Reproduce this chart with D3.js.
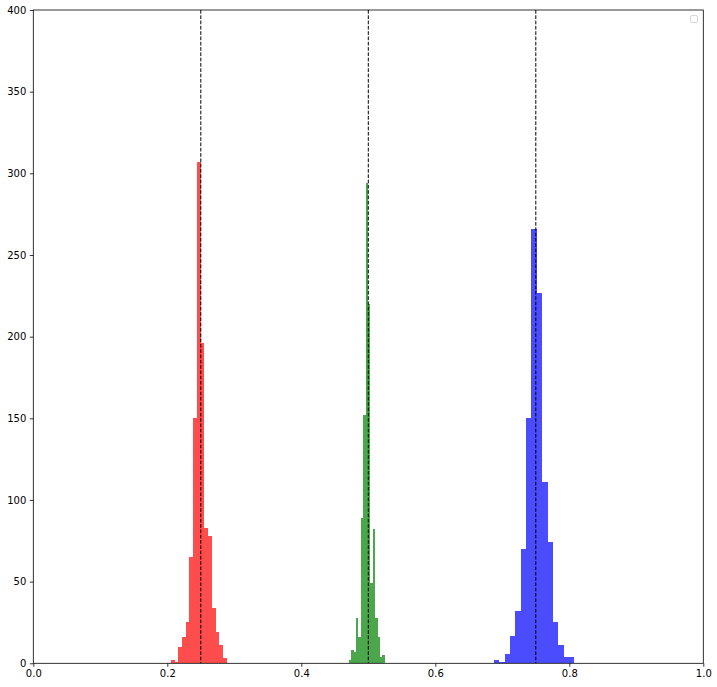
<!DOCTYPE html>
<html>
<head>
<meta charset="utf-8">
<script src="https://cdn.jsdelivr.net/npm/d3@7"></script>
<style>
  html, body { margin: 0; padding: 0; background: #fff; }
  svg { display: block; font-family: "DejaVu Sans", sans-serif; }
</style>
</head>
<body>
<svg id="chart" width="717" height="687"></svg>
<script>
// ---- data ----
const redStart = 0.2052, redWidth = 0.00557;
const redCounts = [2, 1, 10, 16, 25, 65, 150, 307, 196, 83, 78, 34, 19, 11, 3];

const greenStart = 0.4709, greenWidth = 0.00358;
const greenCounts = [2, 8, 7, 28, 16, 89, 152, 294, 220, 49, 82, 28, 16, 4, 5];

const blueStart = 0.6873, blueWidth = 0.00803;
const blueCounts = [2, 1, 6, 17, 32, 70, 150, 266, 227, 111, 74, 25, 11, 4, 4];

const trueValues = [0.25, 0.5, 0.75];
const xTicks = [0.0, 0.2, 0.4, 0.6, 0.8, 1.0];
const yTicks = [0, 50, 100, 150, 200, 250, 300, 350, 400];

// ---- layout ----
const svg = d3.select("#chart");
const L = 33.3, R = 703.3, T = 10, B = 663.3;
const x = d3.scaleLinear().domain([0, 1]).range([L, R]);
const y = d3.scaleLinear().domain([0, 400]).range([B, T]);

const series = [
  { start: redStart, width: redWidth, counts: redCounts, color: "red" },
  { start: greenStart, width: greenWidth, counts: greenCounts, color: "green" },
  { start: blueStart, width: blueWidth, counts: blueCounts, color: "blue" }
];

series.forEach(s => {
  const bins = s.counts.map((c, i) => ({ x0: s.start + i * s.width, x1: s.start + (i + 1) * s.width, c }));
  svg.append("g").selectAll("rect").data(bins).enter().append("rect")
    .attr("x", d => x(d.x0))
    .attr("width", d => x(d.x1) - x(d.x0))
    .attr("y", d => y(d.c))
    .attr("height", d => y(0) - y(d.c))
    .attr("fill", s.color)
    .attr("fill-opacity", 0.7)
    .attr("shape-rendering", "crispEdges");
});

// dashed true-value lines
svg.append("g").selectAll("line").data(trueValues).enter().append("line")
  .attr("x1", d => x(d)).attr("x2", d => x(d))
  .attr("y1", T).attr("y2", B)
  .attr("stroke", "black").attr("stroke-width", 1)
  .attr("stroke-dasharray", "3.7,1.6");

// axes
const xAxis = d3.axisBottom(x).tickValues(xTicks).tickFormat(d3.format(".1f")).tickSizeInner(3.5).tickSizeOuter(0).tickPadding(3.5);
const yAxis = d3.axisLeft(y).tickValues(yTicks).tickFormat(d3.format("d")).tickSizeInner(3.5).tickSizeOuter(0).tickPadding(3.5);

const gx = svg.append("g").attr("transform", `translate(0,${B})`).call(xAxis);
const gy = svg.append("g").attr("transform", `translate(${L},0)`).call(yAxis);
[gx, gy].forEach(g => {
  g.select(".domain").remove();
  g.selectAll("line").attr("stroke", "#000").attr("stroke-width", 0.8);
  g.selectAll("text").attr("fill", "#000").style("font-size", "10px").style("font-family", "'DejaVu Sans', sans-serif");
});

// frame
svg.append("rect")
  .attr("x", L).attr("y", T).attr("width", R - L).attr("height", B - T)
  .attr("fill", "none").attr("stroke", "#000").attr("stroke-width", 0.8);

// empty legend box
svg.append("rect")
  .attr("x", 690.5).attr("y", 15.5).attr("width", 7).attr("height", 7)
  .attr("rx", 1.5).attr("fill", "#fff").attr("fill-opacity", 0.8)
  .attr("stroke", "#cccccc").attr("stroke-width", 0.8);
</script>
</body>
</html>
